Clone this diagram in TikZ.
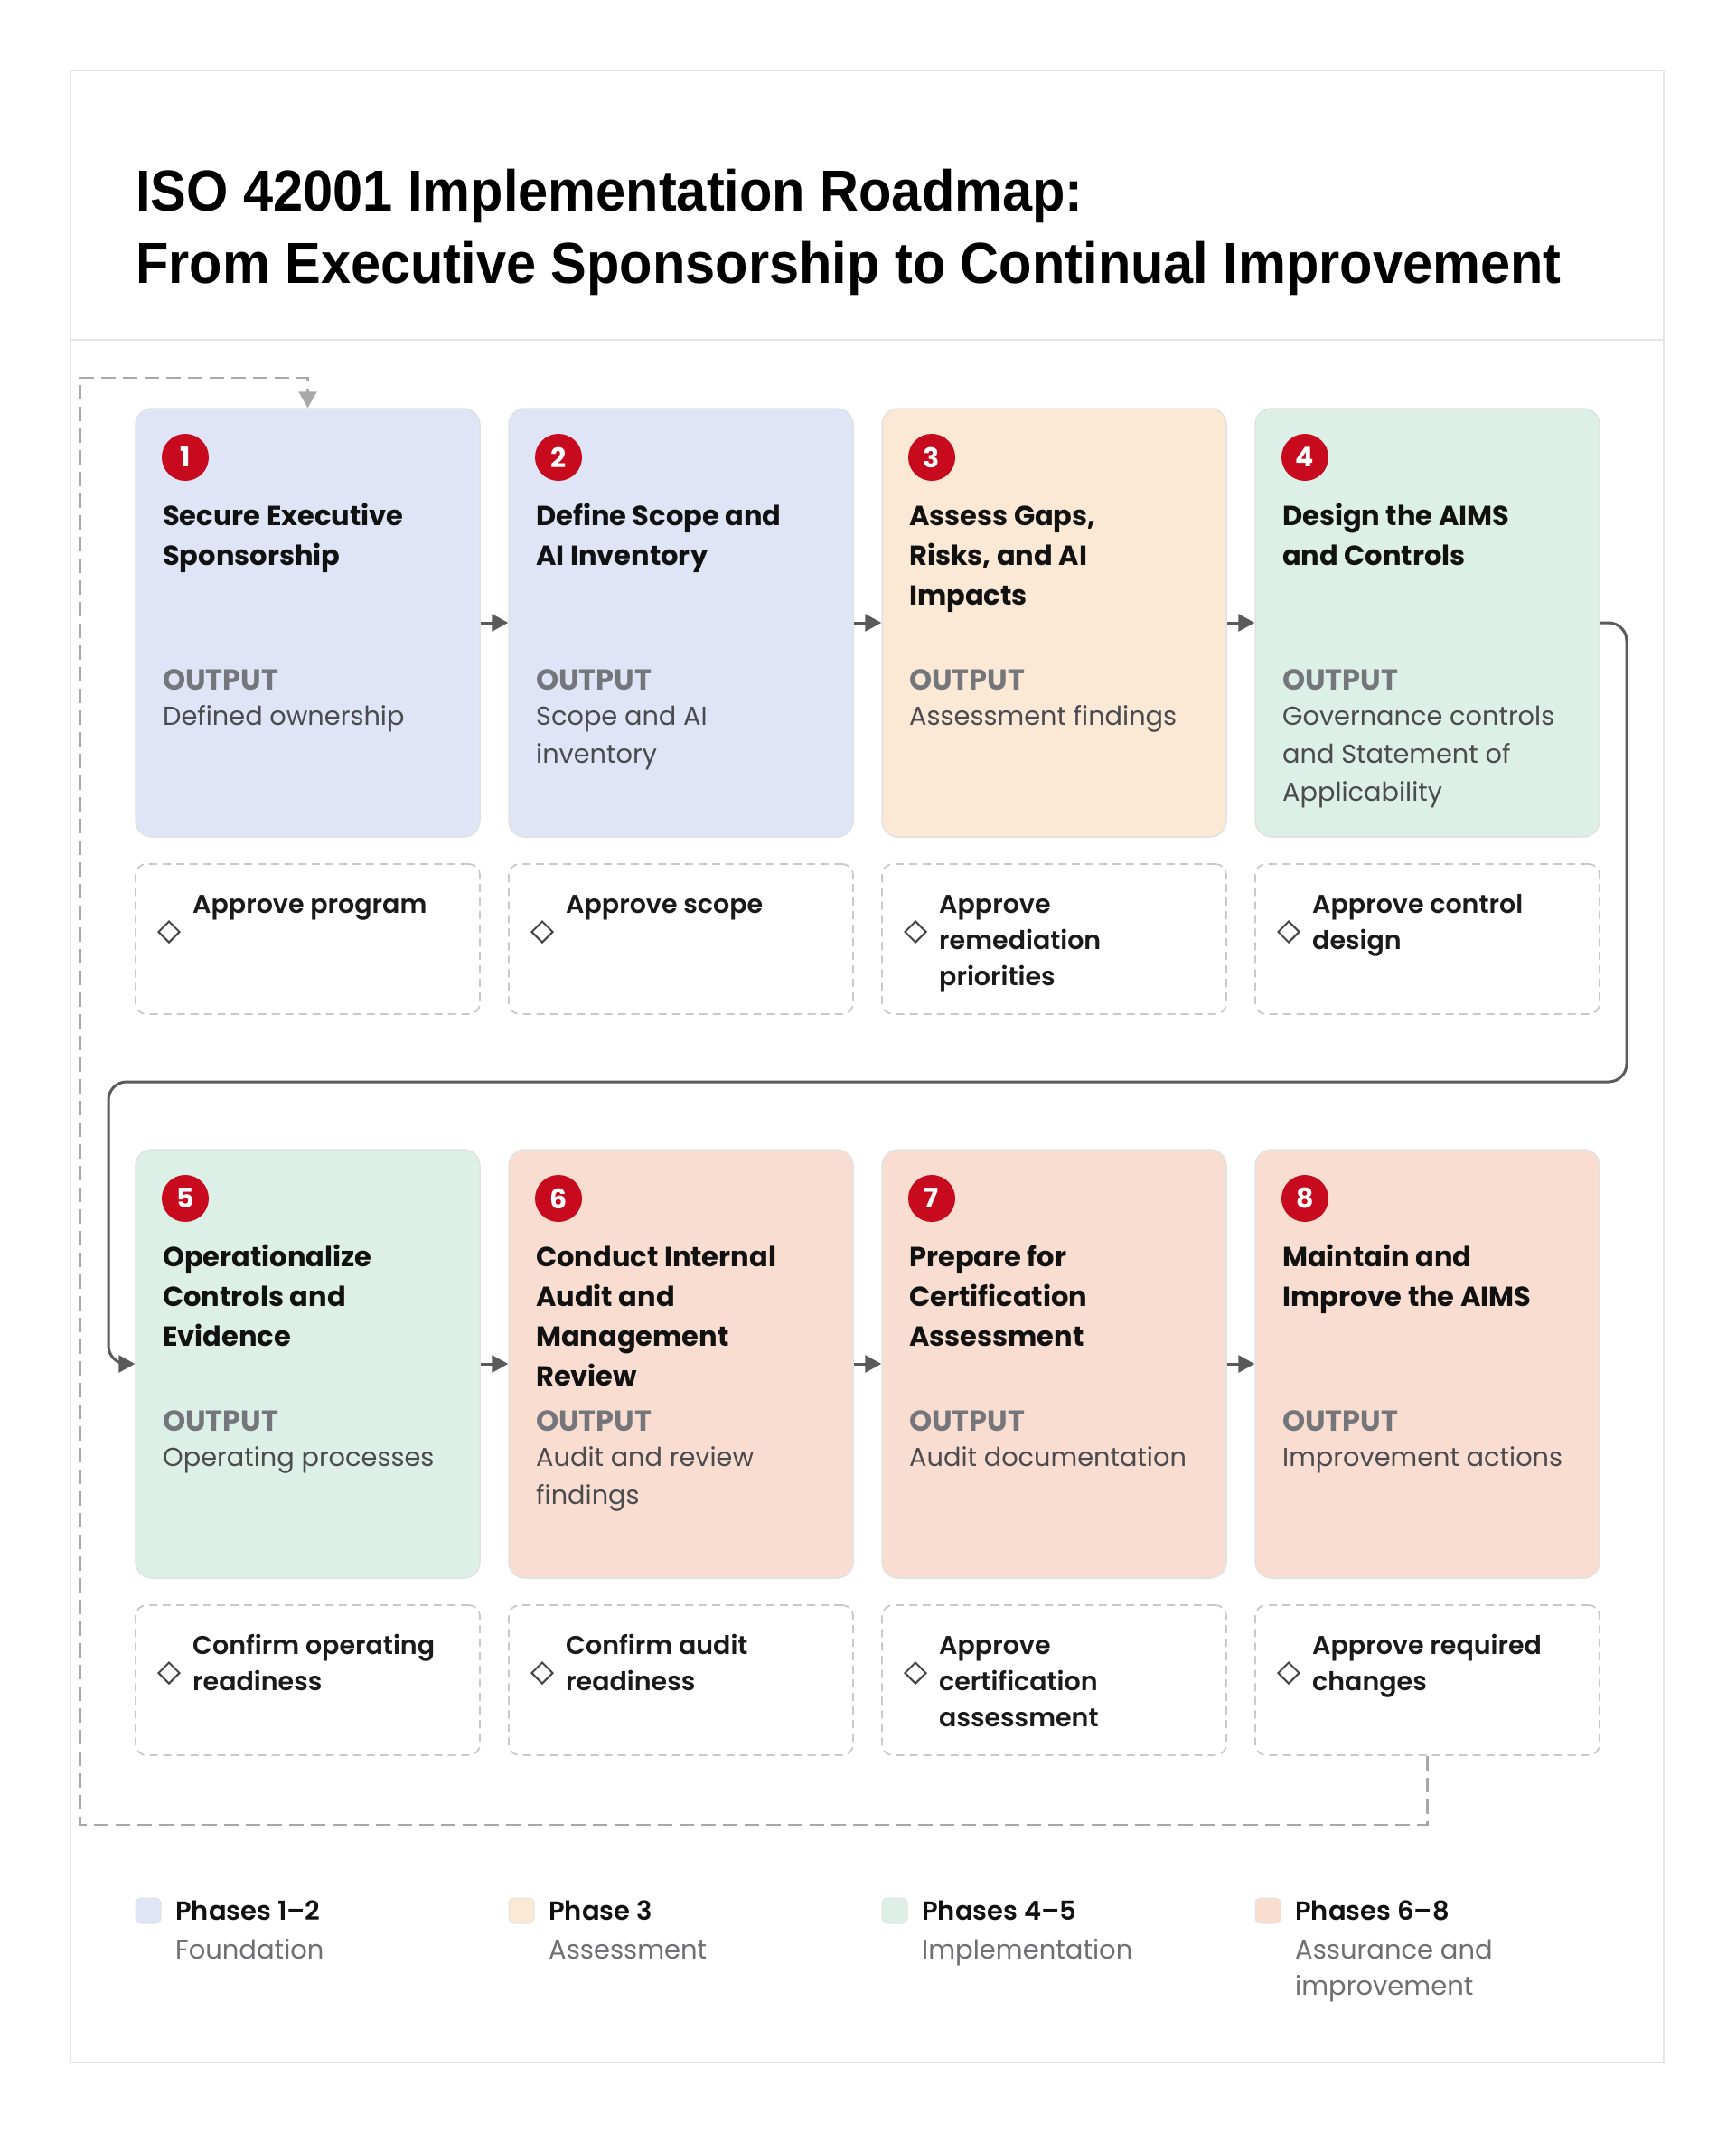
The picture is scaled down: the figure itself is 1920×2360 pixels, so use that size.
\documentclass[tikz,border=0pt]{standalone}
\usepackage{fontspec}
\setmainfont{Poppins}
\newfontfamily\psemi{Poppins SemiBold}
\newfontfamily\titlefont{Liberation Sans}[FakeStretch=0.93]
\usetikzlibrary{arrows.meta,shapes.geometric}
\definecolor{blueF}{HTML}{DFE5F6}
\definecolor{peachF}{HTML}{FBE9D5}
\definecolor{greenF}{HTML}{DDF0E8}
\definecolor{salmonF}{HTML}{F9DDD0}
\definecolor{cardline}{HTML}{E1E1E1}
\definecolor{badgered}{HTML}{C80A1E}
\definecolor{headc}{HTML}{111111}
\definecolor{lblgray}{HTML}{75767C}
\definecolor{bodygray}{HTML}{4A4A4F}
\definecolor{aptc}{HTML}{1A1A1A}
\definecolor{apline}{HTML}{C9C9C9}
\definecolor{diamc}{HTML}{444444}
\definecolor{arrowc}{HTML}{5A5A5A}
\definecolor{loopc}{HTML}{A8A8A8}
\definecolor{framec}{HTML}{E6E6E6}
\definecolor{subgray}{HTML}{6E6E73}
\tikzset{
  card/.style={rectangle, rounded corners=18pt, draw=cardline, line width=1.5pt, minimum width=381pt, minimum height=474pt, inner sep=0pt},
  badge/.style={circle, fill=badgered, minimum size=52pt, inner sep=0pt, text=white, font=\bfseries\fontsize{30}{30}\selectfont},
  headtxt/.style={anchor=north west, inner sep=0pt, align=left, text=headc, font=\bfseries\fontsize{30.5}{44}\selectfont},
  outlbl/.style={anchor=base west, inner sep=0pt, text=lblgray, font=\bfseries\fontsize{32}{32}\selectfont},
  outtxt/.style={anchor=north west, inner sep=0pt, align=left, text=bodygray, font=\fontsize{28.8}{42}\selectfont},
  apbox/.style={rectangle, rounded corners=12pt, draw=apline, line width=1.8pt, dash pattern=on 9pt off 6pt, minimum width=381pt, minimum height=166pt, inner sep=0pt},
  diam/.style={diamond, draw=diamc, line width=2pt, minimum width=24pt, minimum height=24pt, inner sep=0pt},
  aptxt/.style={anchor=north west, inner sep=0pt, align=left, text=aptc, font=\psemi\fontsize{28.5}{40}\selectfont},
  flow/.style={draw=arrowc, line width=3pt, -{Triangle[length=18pt,width=19pt]}},
  loopline/.style={draw=loopc, line width=2.5pt, dash pattern=on 16pt off 8pt, -{Triangle[length=18pt,width=20pt]}},
  legsq/.style={rectangle, rounded corners=6pt, draw=cardline, line width=1pt, minimum size=28pt, inner sep=0pt},
  legbold/.style={anchor=base west, inner sep=0pt, text=headc, font=\psemi\fontsize{29}{40}\selectfont},
  legsub/.style={anchor=north west, inner sep=0pt, align=left, text=subgray, font=\fontsize{29}{40}\selectfont},
  titletxt/.style={anchor=north west, inner sep=0pt, align=left, text=black, font=\titlefont\bfseries\fontsize{64}{80.5}\selectfont}
}
% #1 id, #2 X, #3 top, #4 fill, #5 number, #6 heading, #7 output, #8 approval
\newcommand\phasecard[8]{%
  \node[card, fill=#4] (box#1) at ({#2+190.5},{#3+237}) {};
  \node[badge] (num#1) at ({#2+55},{#3+54}) {#5};
  \node[headtxt] (head#1) at ({#2+30},{#3+98.2}) {\strut #6};
  \node[outlbl] (olbl#1) at ({#2+30},{#3+311}) {OUTPUT};
  \node[outtxt] (otxt#1) at ({#2+30},{#3+320.6}) {\strut #7};
  \node[apbox] (ap#1) at ({#2+190.5},{#3+587}) {};
  \node[diam] (dm#1) at ({#2+37},{#3+579}) {};
  \node[aptxt] (apt#1) at ({#2+63},{#3+530}) {\strut #8};
}
\begin{document}
\begin{tikzpicture}[x=1pt,y=-1pt]
\useasboundingbox (0,0) rectangle (1920,2360);
\fill[white] (0,0) rectangle (1920,2360);
% frame and header
\draw[framec, line width=2pt] (78,78) rectangle (1841,2282);
\draw[framec, line width=2pt] (78,376) -- (1841,376);
\node[titletxt] (title) at (150,176.6) {\strut ISO 42001 Implementation Roadmap:\\From Executive Sponsorship to Continual Improvement};
% cards
\phasecard{1}{150}{452}{blueF}{1}{Secure Executive\\Sponsorship}{Defined ownership}{Approve program}
\phasecard{2}{563}{452}{blueF}{2}{Define Scope and\\AI Inventory}{Scope and AI\\inventory}{Approve scope}
\phasecard{3}{976}{452}{peachF}{3}{Assess Gaps,\\Risks, and AI\\Impacts}{Assessment findings}{Approve\\remediation\\priorities}
\phasecard{4}{1389}{452}{greenF}{4}{Design the AIMS\\and Controls}{Governance controls\\and Statement of\\Applicability}{Approve control\\design}
\phasecard{5}{150}{1272}{greenF}{5}{Operationalize\\Controls and\\Evidence}{Operating processes}{Confirm operating\\readiness}
\phasecard{6}{563}{1272}{salmonF}{6}{Conduct Internal\\Audit and\\Management\\Review}{Audit and review\\findings}{Confirm audit\\readiness}
\phasecard{7}{976}{1272}{salmonF}{7}{Prepare for\\Certification\\Assessment}{Audit documentation}{Approve\\certification\\assessment}
\phasecard{8}{1389}{1272}{salmonF}{8}{Maintain and\\Improve the AIMS}{Improvement actions}{Approve required\\changes}
% flow arrows
\draw[flow] (box1.east) -- (box2.west);
\draw[flow] (box2.east) -- (box3.west);
\draw[flow] (box3.east) -- (box4.west);
\draw[flow] (box5.east) -- (box6.west);
\draw[flow] (box6.east) -- (box7.west);
\draw[flow] (box7.east) -- (box8.west);
% row change connector
\coordinate (rc1) at (1800,689);
\coordinate (rc2) at (1800,1197);
\coordinate (rc3) at (120,1197);
\coordinate (rc4) at (120,1509);
\draw[flow, rounded corners=20pt] (box4.east) -- (rc1) -- (rc2) -- (rc3) -- (rc4) -- (box5.west);
% feedback loop
\coordinate (lp1) at (1579.5,2019);
\coordinate (lp2) at (88.5,2019);
\coordinate (lp3) at (88.5,418);
\coordinate (lp4) at (340.5,418);
\draw[loopline] (ap8.south) -- (lp1) -- (lp2) -- (lp3) -- (lp4) -- (box1.north);
% legend
\node[legsq, fill=blueF] (lg1) at (164,2114) {};
\node[legbold] (lgt1) at (194,2124) {Phases 1–2};
\node[legsub] (lgs1) at (194,2139) {\strut Foundation};
\node[legsq, fill=peachF] (lg2) at (577,2114) {};
\node[legbold] (lgt2) at (607,2124) {Phase 3};
\node[legsub] (lgs2) at (607,2139) {\strut Assessment};
\node[legsq, fill=greenF] (lg3) at (990,2114) {};
\node[legbold] (lgt3) at (1020,2124) {Phases 4–5};
\node[legsub] (lgs3) at (1020,2139) {\strut Implementation};
\node[legsq, fill=salmonF] (lg4) at (1403,2114) {};
\node[legbold] (lgt4) at (1433,2124) {Phases 6–8};
\node[legsub] (lgs4) at (1433,2139) {\strut Assurance and\\improvement};
\end{tikzpicture}
\end{document}
